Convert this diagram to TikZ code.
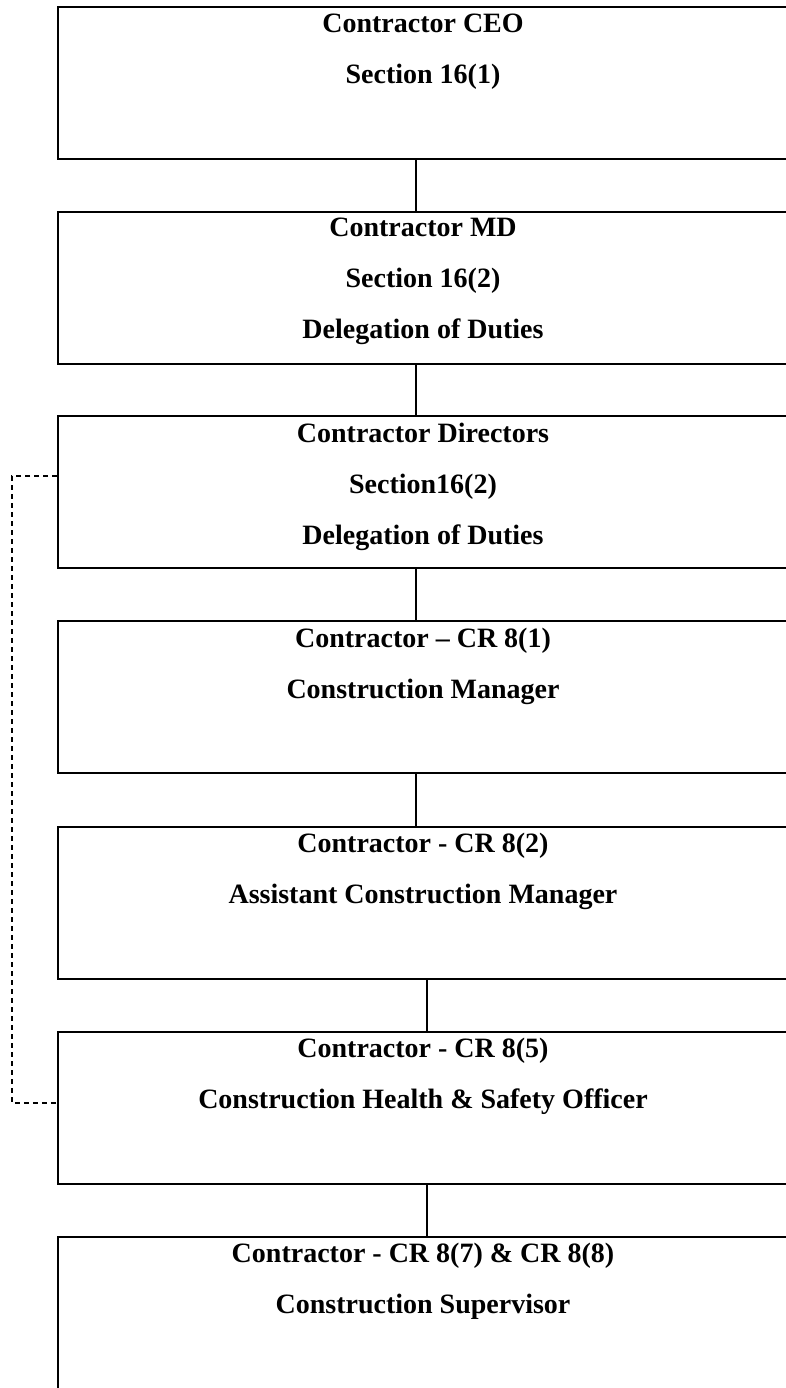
\documentclass[tikz,border=0pt]{standalone}
\usepackage{fontspec}
\setmainfont{Liberation Serif}
\usetikzlibrary{positioning}

\begin{document}
\begin{tikzpicture}[x=0.5pt, y=-0.5pt,
	box/.style={draw, line width=1pt, anchor=north west, minimum width=365pt, minimum height=76pt, inner sep=0},
	title/.style={anchor=north, align=center, inner sep=0, font=\fontsize{14}{25.5}\selectfont\bfseries},
	link/.style={line width=0.7pt},
	dashlink/.style={line width=0.7pt, dash pattern=on 2.5pt off 2pt}]

	\clip (0,0) rectangle (786,1388);

	\node (b1) [box] at (57, 6) {};
	\node (b2) [box] at (57, 210.5) {};
	\node (b3) [box] at (57, 415) {};
	\node (b4) [box] at (57, 620) {};
	\node (b5) [box] at (57, 825.5) {};
	\node (b6) [box] at (57, 1030.5) {};
	\node (b7) [box, minimum height=85pt] at (57, 1235.5) {};

	\node (t1) [title, below=3.75pt of b1.north] {Contractor CEO\\Section 16(1)};
	\node (t2) [title, below=3.75pt of b2.north] {Contractor MD\\Section 16(2)\\Delegation of Duties};
	\node (t3) [title, below=3.75pt of b3.north] {Contractor Directors\\Section16(2)\\Delegation of Duties};
	\node (t4) [title, below=3.75pt of b4.north] {Contractor -- CR 8(1)\\Construction Manager};
	\node (t5) [title, below=3.75pt of b5.north] {Contractor - CR 8(2)\\Assistant Construction Manager};
	\node (t6) [title, below=3.75pt of b6.north] {Contractor - CR 8(5)\\Construction Health \& Safety Officer};
	\node (t7) [title, below=3.75pt of b7.north] {Contractor - CR 8(7) \& CR 8(8)\\Construction Supervisor};

	\draw[link] ([xshift=-3.5pt]b1.south) -- ([xshift=-3.5pt]b2.north);
	\draw[link] ([xshift=-3.5pt]b2.south) -- ([xshift=-3.5pt]b3.north);
	\draw[link] ([xshift=-3.5pt]b3.south) -- ([xshift=-3.5pt]b4.north);
	\draw[link] ([xshift=-3.5pt]b4.south) -- ([xshift=-3.5pt]b5.north);
	\draw[link] ([xshift=2pt]b5.south) -- ([xshift=2pt]b6.north);
	\draw[link] ([xshift=2pt]b6.south) -- ([xshift=2pt]b7.north);

	% dashed line from the directors to the safety officer
	\coordinate (d1) at (12, 476);
	\coordinate (d2) at (12, 1103);
	\draw[dashlink] (b3.west |- d1) -- (d1) -- (d2) -- (b6.west |- d2);

\end{tikzpicture}
\end{document}
